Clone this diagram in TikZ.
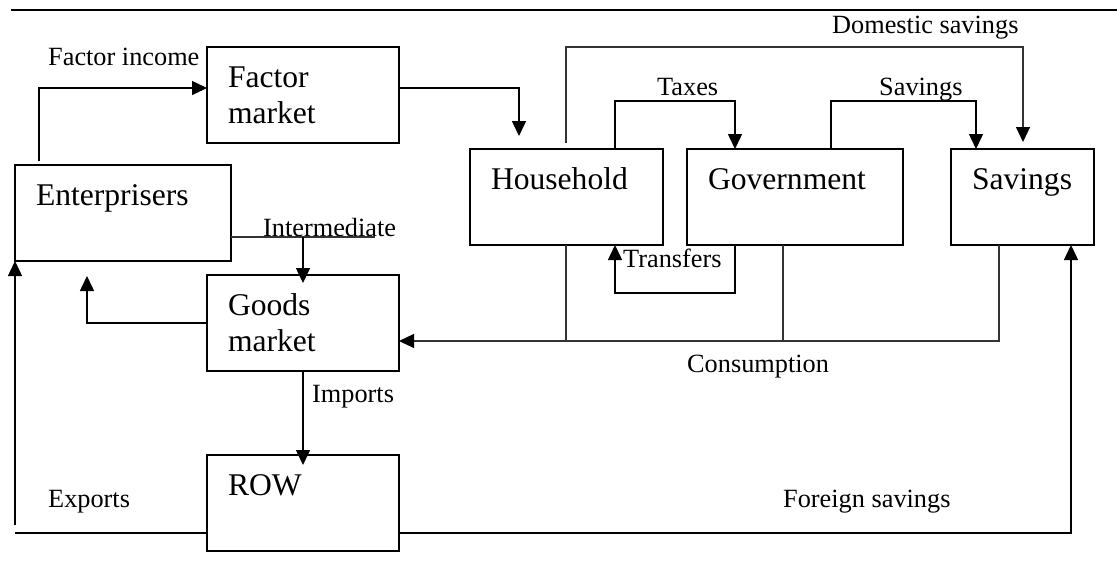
\documentclass[tikz,border=0pt]{standalone}
\usepackage{fontspec}
\setmainfont{Liberation Serif}
\usetikzlibrary{arrows.meta}
\begin{document}
\begin{tikzpicture}[x=1pt,y=-1pt,
  box/.style={draw, line width=1.5pt, anchor=north west, minimum height=96pt,
    inner xsep=21pt, inner ysep=0pt, outer sep=0pt, align=left,
    text height=22pt, text depth=38pt, font=\fontsize{31.6}{36}\selectfont},
  lbl/.style={anchor=base west, inner sep=0pt, font=\fontsize{26.3}{30}\selectfont},
  conn/.style={line width=1.5pt},
  thinconn/.style={line width=1.2pt, draw=black!80},
  arr/.style={-{Triangle[length=15pt,width=14pt,color=black]}}
]
\useasboundingbox (0,0) rectangle (1117,587);

% top rule
\coordinate (rL) at (11,10);
\coordinate (rR) at (1117,10);
\draw[line width=1.7pt] (rL) -- (rR);

% boxes
\node[box, text width=150pt] (fm)  at (207,47)  {Factor\\market};
\node[box, text width=174pt] (ent) at (15,165)  {Enterprisers};
\node[box, text width=151pt] (hh)  at (470,149) {Household};
\node[box, text width=174pt] (gov) at (687,149) {Government};
\node[box, text width=101pt] (sav) at (951,149) {Savings};
\node[box, text width=150pt] (gm)  at (207,275) {Goods\\market};
\node[box, text width=150pt] (row) at (207,455) {ROW};

% labels
\node[lbl] (lFI) at (48,65)   {Factor income};
\node[lbl] (lIM) at (263,236) {Intermediate};
\node[lbl] (lDS) at (832,33)  {Domestic savings};
\node[lbl] (lTX) at (657,95)  {Taxes};
\node[lbl] (lSV) at (879,95)  {Savings};
\node[lbl] (lTR) at (623,267) {Transfers};
\node[lbl] (lCO) at (687,372) {Consumption};
\node[lbl] (lIP) at (312,402) {Imports};
\node[lbl] (lEX) at (48,507)  {Exports};
\node[lbl] (lFS) at (783,507) {Foreign savings};

% helper coordinates
\coordinate (fiS) at (39,161);
\coordinate (yFI) at (0,88);
\coordinate (hhIn) at (519,136);
\coordinate (dsS) at (566,143);
\coordinate (dsE) at (1023,142);
\coordinate (yDS) at (0,47);
\coordinate (xT1) at (615,0);
\coordinate (xT2) at (735,0);
\coordinate (xS1) at (831,0);
\coordinate (xS2) at (976,0);
\coordinate (yTop) at (0,101);
\coordinate (yTr) at (0,293);
\coordinate (yC) at (0,341);
\coordinate (xC1) at (566,0);
\coordinate (xC2) at (783,0);
\coordinate (xC3) at (999,0);
\coordinate (yI) at (0,237);
\coordinate (iEnd) at (375,237);
\coordinate (iMid) at (303,237);
\coordinate (geIn) at (87,276);
\coordinate (yX) at (0,533);
\coordinate (xL) at (15,533);
\coordinate (xL2) at (15,525);
\coordinate (xF) at (1071,0);

% connectors
\draw[conn,arr] (fiS) |- (fm.west |- yFI);
\draw[conn,arr] (fm.east |- yFI) -| (hhIn);
\draw[thinconn,arr] (dsS) |- (dsE |- yDS) -- (dsE);
\draw[conn,arr] (hh.north -| xT1) -- (xT1 |- yTop) -| (gov.north -| xT2);
\draw[conn,arr] (gov.north -| xS1) -- (xS1 |- yTop) -| (sav.north -| xS2);
\draw[conn,arr] (gov.south -| xT2) -- (xT2 |- yTr) -| (hh.south -| xT1);
\draw[thinconn,arr] (sav.south -| xC3) |- (gm.east |- yC);
\draw[thinconn] (hh.south -| xC1) -- (xC1 |- yC);
\draw[thinconn] (gov.south -| xC2) -- (xC2 |- yC);
\draw[thinconn] (ent.east |- yI) -- (iEnd);
\draw[conn,arr,shorten >=-8pt] (iMid) -- (gm.north);
\draw[conn,arr] (gm.west) -| (geIn);
\draw[conn,arr,shorten >=-10pt] (gm.south) -- (row.north);
\draw[conn] (row.west |- yX) -- (xL);
\draw[conn,arr] (xL2) -- (ent.south west);
\draw[conn,arr] (row.east |- yX) -| (sav.south -| xF);
\end{tikzpicture}
\end{document}
